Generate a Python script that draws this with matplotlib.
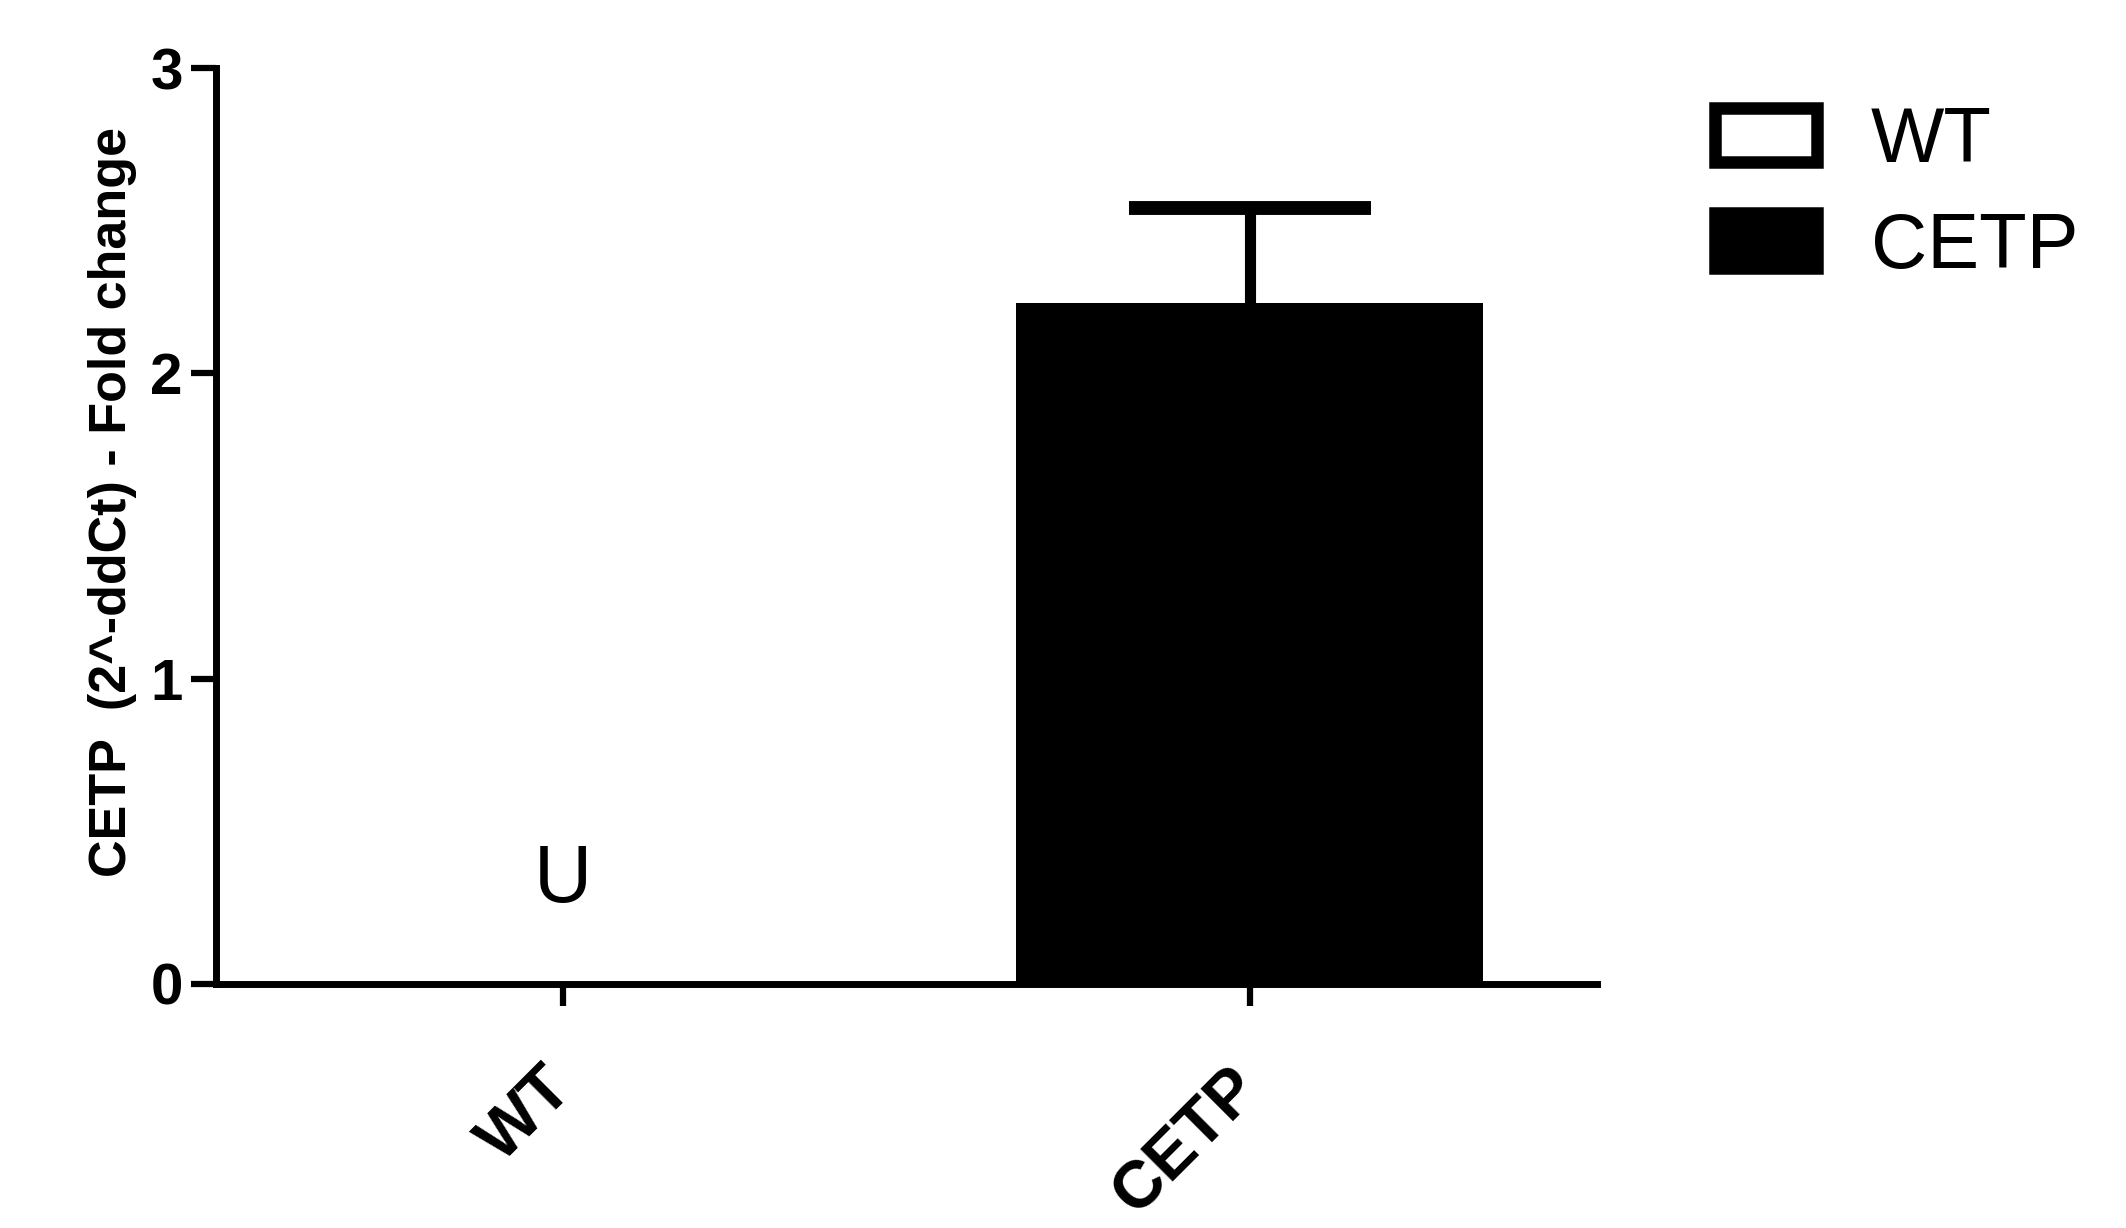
import matplotlib
matplotlib.use("Agg")
import matplotlib.pyplot as plt
from matplotlib.patches import Patch

categories = ["WT", "CETP"]
values = [0.0, 2.23]
errors = [0.0, 0.31]
legend_labels = ["WT", "CETP"]
face_colors = ["white", "black"]
yticks = [0, 1, 2, 3]
annotation_text = "U"
ylabel = "CETP  (2^-ddCt) - Fold change"

plt.rcParams['font.family'] = ['Liberation Sans', 'DejaVu Sans']

fig = plt.figure(figsize=(21.26, 12.28), dpi=100)
ax = fig.add_axes([0.1016, 0.1987, 0.6494, 0.7459])

x = list(range(len(categories)))
ax.bar(x[1], values[1], width=0.68, color=face_colors[1], edgecolor='black', linewidth=0)
eb = ax.errorbar(x[1], values[1], yerr=[[0], [errors[1]]], fmt='none', ecolor='black',
                 elinewidth=8, capsize=87, capthick=10)
caplines = eb[1]
if len(caplines) == 2:
    caplines[0].set_visible(False)
ax.text(x[0], 0.337, annotation_text, ha='center', va='center', fontsize=58)

ax.set_xlim(-0.505, 1.505)
ax.set_ylim(0, 3)
ax.set_yticks(yticks)
ax.set_yticklabels([str(t) for t in yticks], fontsize=42, fontweight='bold')
ax.set_xticks(x)
ax.set_xticklabels(categories, fontsize=48, fontweight='bold', rotation=45,
                   ha='right', va='center', rotation_mode='anchor')
for s in ['top', 'right']:
    ax.spines[s].set_visible(False)
for s in ['left', 'bottom']:
    ax.spines[s].set_linewidth(5)
ax.tick_params(axis='y', length=18, width=4.5, pad=6)
ax.tick_params(axis='x', length=16, width=4.5, pad=52)

ax.set_ylabel(ylabel, fontsize=37.5, fontweight='bold')
ax.yaxis.set_label_coords(-0.057, 0.526)

handles = [Patch(facecolor=face_colors[0], edgecolor='black', linewidth=9, joinstyle='round'),
           Patch(facecolor=face_colors[1], edgecolor='black', linewidth=9, joinstyle='round')]
fig.legend(handles, legend_labels, loc='upper left', bbox_to_anchor=(0.7886, 0.946),
           frameon=False, fontsize=56, handlelength=1.3, handleheight=0.7,
           handletextpad=0.7, labelspacing=0.42, borderpad=0)

fig.savefig("out.png", dpi=100)
